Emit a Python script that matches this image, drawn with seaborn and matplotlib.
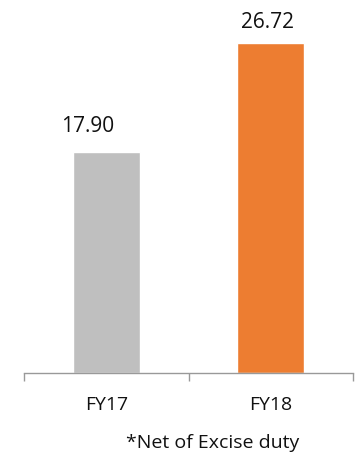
import matplotlib
matplotlib.use("Agg")
import matplotlib.pyplot as plt
import seaborn as sns
import pandas as pd

categories = ["FY17", "FY18"]
values = [17.90, 26.72]
value_labels = ["17.90", "26.72"]
colors = ["#BFBFBF", "#ED7D31"]
footnote = "*Net of Excise duty"

# per-label nudges for the value annotations (points)
label_dx = [-13.7, -2.5]
label_dy = [14.4, 10.8]

sns.set_theme(style="white")
plt.rcParams["font.family"] = ["Open Sans", "DejaVu Sans"]

df = pd.DataFrame({"year": categories, "value": values})

fig = plt.figure(figsize=(3.55, 4.53), dpi=100)
ax = fig.add_axes([24 / 355, 80 / 453, 329 / 355, 373 / 453])

sns.barplot(data=df, x="year", y="value", hue="year", palette=colors,
            width=0.41, legend=False, ax=ax, saturation=1)

ax.set_xlim(-0.5, 1.5)
ax.set_ylim(0, 30.2)

for i, (v, lab) in enumerate(zip(values, value_labels)):
    ax.annotate(lab, (i, v), xytext=(label_dx[i], label_dy[i]),
                textcoords="offset points", ha="center", va="baseline",
                fontsize=15, color="#111111", annotation_clip=False)

for s in ["top", "left", "right"]:
    ax.spines[s].set_visible(False)
ax.spines["bottom"].set_color("#999999")
ax.spines["bottom"].set_linewidth(1.0)

ax.set_yticks([])
ax.set_xlabel("")
ax.set_ylabel("")
ax.tick_params(axis="x", which="major", length=0, pad=16.5, labelsize=14,
               labelcolor="#111111")
ax.set_xticks([-0.5, 0.5, 1.5], minor=True)
ax.tick_params(axis="x", which="minor", length=6, width=1, color="#999999",
               direction="out", bottom=True)

fig.text(213 / 355, 1 - 448 / 453, footnote, ha="center", va="baseline",
         fontsize=14, color="#111111")

fig.savefig("out.png", dpi=100, facecolor="white")
